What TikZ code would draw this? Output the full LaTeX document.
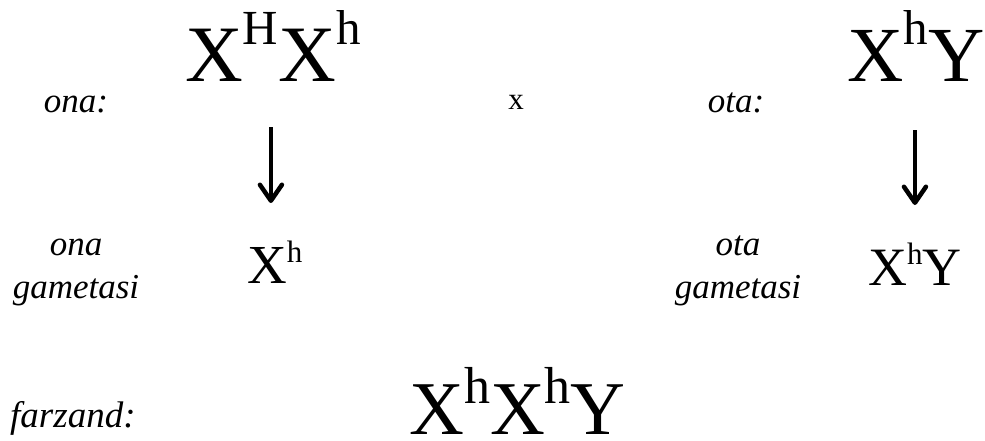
\documentclass[tikz,border=0pt]{standalone}
\usepackage{fontspec}
\setmainfont{Liberation Serif}
\usetikzlibrary{arrows.meta}
\newcommand\allele[3]{\raisebox{#1}{\fontsize{#2}{#2}\selectfont #3}}
\tikzset{
  lab/.style={anchor=base, inner sep=0pt, font=\fontsize{35}{42}\selectfont\itshape},
  geno/.style={anchor=base west, inner sep=0pt},
  arr/.style={line width=4.5pt, -{Straight Barb[length=16pt,width=22pt,round]}}
}
\begin{document}
\begin{tikzpicture}[x=1pt,y=-1pt]
\useasboundingbox (0,0) rectangle (985,441);
% labels
\node[lab] (ona) at (76,113) {ona:};
\node[lab, font=\fontsize{31}{33}\selectfont] (cross) at (516,110) {x};
\node[lab] (ota) at (736,113) {ota:};
\node[lab] (onag1) at (76,255) {ona};
\node[lab] (onag2) at (76,298) {gametasi};
\node[lab] (otag1) at (738,255) {ota};
\node[lab] (otag2) at (738,298) {gametasi};
\node[lab, anchor=base west, font=\fontsize{37}{42}\selectfont\itshape] (farz) at (10,427) {farzand:};
% genotypes
\node[geno, font=\fontsize{80}{80}\selectfont] (momg) at (185,82)
  {X\allele{37pt}{49}{H}X\allele{37pt}{49}{h}};
\node[geno, font=\fontsize{78}{78}\selectfont] (dadg) at (847,82)
  {X\allele{37pt}{49}{h}Y};
\node[geno, font=\fontsize{55}{55}\selectfont] (mgam) at (247,283)
  {X\allele{21pt}{31}{h}};
\node[geno, font=\fontsize{54}{54}\selectfont] (dgam) at (868,285)
  {X\allele{21pt}{31}{h}Y};
\node[geno, font=\fontsize{76}{76}\selectfont] (child) at (409,434)
  {X\allele{31pt}{52}{h}X\allele{31pt}{52}{h}Y};
% arrows
\draw[arr] (momg.south) ++(-2,45) coordinate (a1s) -- (a1s |- 0,203) coordinate (a1e);
\draw[arr] (dgam.north |- dadg.south) ++(0,48) coordinate (a2s) -- (a2s |- 0,205) coordinate (a2e);
\end{tikzpicture}
\end{document}
